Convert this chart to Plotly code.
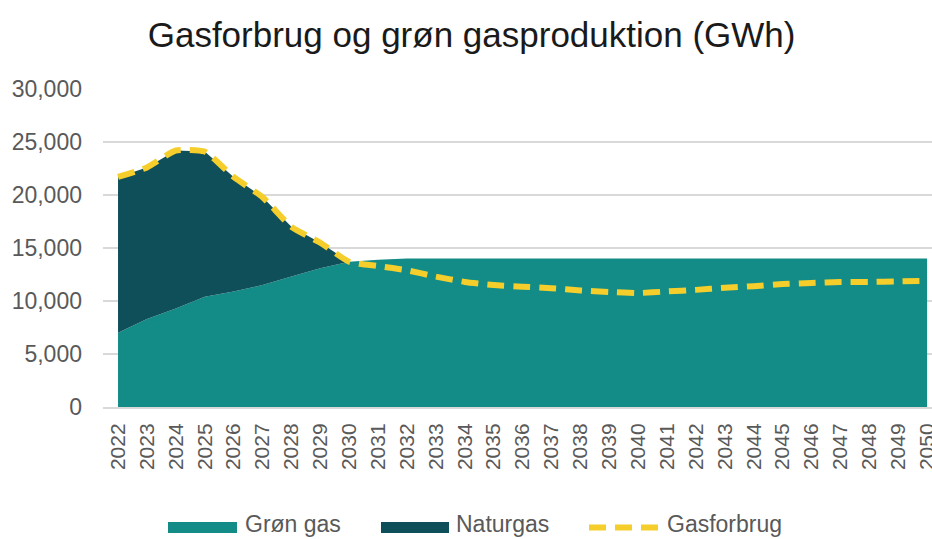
import plotly.graph_objects as go

years = list(range(2022, 2051))
gron_gas = [7000, 8300, 9300, 10400, 10900, 11500, 12300, 13100, 13700, 13900,
            14000, 14000, 14000, 14000, 14000, 14000, 14000, 14000, 14000, 14000,
            14000, 14000, 14000, 14000, 14000, 14000, 14000, 14000, 14000]
naturgas = [14700, 14300, 14900, 13700, 10800, 8300, 4700, 2400, 0, 0,
            0, 0, 0, 0, 0, 0, 0, 0, 0, 0,
            0, 0, 0, 0, 0, 0, 0, 0, 0]
gasforbrug = [21700, 22600, 24200, 24100, 21700, 19800, 17000, 15500, 13700, 13300,
              12900, 12300, 11800, 11500, 11350, 11200, 11000, 10850, 10750, 10900,
              11050, 11250, 11400, 11600, 11700, 11800, 11800, 11850, 11900]
y_ticks = [0, 5000, 10000, 15000, 20000, 25000, 30000]
series_names = ["Grøn gas", "Naturgas", "Gasforbrug"]

FONT = "Liberation Sans, Arial, sans-serif"
C_GREEN = "#138B87"
C_NATUR = "#0F4F5A"
C_LINE = "#F5CE2B"
DASH = "17px,9px"

W, H = 932, 539
ML, MR, MT, MB = 103, 0, 89, 132
PW, PH = W - ML - MR, H - MT - MB


def px(xp):
    return (xp - ML) / PW


def py(yp):
    return (H - MB - yp) / PH


fig = go.Figure()
fig.add_trace(go.Scatter(x=years, y=gron_gas, name=series_names[0], mode="lines",
                         stackgroup="one", line=dict(width=0, color=C_GREEN),
                         fillcolor=C_GREEN))
fig.add_trace(go.Scatter(x=years, y=naturgas, name=series_names[1], mode="lines",
                         stackgroup="one", line=dict(width=0, color=C_NATUR),
                         fillcolor=C_NATUR))
fig.add_trace(go.Scatter(x=years, y=gasforbrug, name=series_names[2], mode="lines",
                         line=dict(color=C_LINE, width=6, dash=DASH,
                                   shape="spline", smoothing=0.5)))

# legend drawn below the plot (wide swatches as in the reference)
legend_y = 527.5
shapes = [
    dict(type="rect", xref="paper", yref="paper", x0=px(168), x1=px(237),
         y0=py(533), y1=py(522), fillcolor=C_GREEN, line=dict(width=0)),
    dict(type="rect", xref="paper", yref="paper", x0=px(381), x1=px(449),
         y0=py(533), y1=py(522), fillcolor=C_NATUR, line=dict(width=0)),
    dict(type="line", xref="paper", yref="paper", x0=px(589), x1=px(660),
         y0=py(legend_y), y1=py(legend_y), line=dict(color=C_LINE, width=6, dash=DASH)),
]
annotations = [
    dict(text=name, xref="paper", yref="paper", x=px(xl), y=py(538.5),
         xanchor="left", yanchor="bottom", showarrow=False,
         font=dict(family=FONT, size=23, color="#595959"))
    for name, xl in zip(series_names, [243, 454, 665])
]

fig.update_layout(
    width=W, height=H,
    margin=dict(l=ML, r=MR, t=MT, b=MB, autoexpand=False),
    paper_bgcolor="white", plot_bgcolor="white",
    font=dict(family=FONT, color="#595959", size=20),
    title=dict(text="Gasforbrug og grøn gasproduktion (GWh)",
               x=0.506, xanchor="center", y=0.935, yanchor="middle",
               font=dict(family=FONT, size=35, color="#1a1a1a")),
    showlegend=False,
    shapes=shapes,
    annotations=annotations,
    xaxis=dict(range=[2021.48, 2050.17], tickmode="array", tickvals=years,
               ticktext=[str(y) for y in years], tickangle=-90,
               showgrid=False, showline=True, linecolor="#D9D9D9", linewidth=2,
               ticks="", tickfont=dict(size=21, color="#595959"),
               ticklabelstandoff=6, ticklabeloverflow="allow",
               zeroline=False, automargin=False),
    yaxis=dict(range=[0, 30000], tickmode="array", tickvals=y_ticks,
               tickformat=",", showgrid=True, gridcolor="#D9D9D9", gridwidth=2,
               zeroline=False, ticks="", tickfont=dict(size=23, color="#595959"),
               ticklabelstandoff=20, automargin=False),
)

fig.write_html("out.html", config={"displayModeBar": False},
               post_script="document.body.style.margin='0';document.body.style.overflow='hidden';")
